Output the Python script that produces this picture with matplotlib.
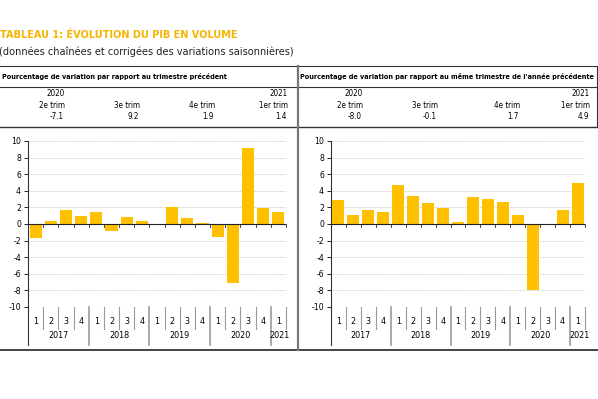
import numpy as np
import matplotlib
matplotlib.use("Agg")
import matplotlib.pyplot as plt
from matplotlib.lines import Line2D
from matplotlib.transforms import blended_transform_factory

plt.rcParams['font.family'] = ['DejaVu Sans']
plt.rcParams['font.stretch'] = 'condensed'
plt.rcParams['axes.unicode_minus'] = False

# données
trimestres = ['1', '2', '3', '4'] * 4 + ['1']
annees = ['2017', '2018', '2019', '2020', '2021']
var_trim = [-1.7, 0.4, 1.7, 1.0, 1.5, -0.8, 0.8, 0.4,
            -0.1, 2.0, 0.7, 0.1, -1.6, -7.1, 9.2, 1.9, 1.4]
var_annuelle = [2.9, 1.1, 1.7, 1.4, 4.7, 3.4, 2.5, 1.9,
                0.3, 3.2, 3.0, 2.7, 1.1, -8.0, -0.1, 1.7, 4.9]

entete_annees = ['2020', '', '', '2021']
entete_trim = ['2e trim', '3e trim', '4e trim', '1er trim']
val_trim = ['-7.1', '9.2', '1.9', '1.4']
val_annuelle = ['-8.0', '-0.1', '1.7', '4.9']

JAUNE = '#FFC000'
W, H = 598, 399

fig = plt.figure(figsize=(W / 100, H / 100), dpi=100)


def fx(px):
    return px / W


def fy(py):
    return 1 - py / H


def hline(x0, x1, y, lw=0.8, c='#333333'):
    fig.add_artist(Line2D([fx(x0), fx(x1)], [fy(y), fy(y)], lw=lw, color=c,
                          transform=fig.transFigure))


def vline(x, y0, y1, lw=0.8, c='#333333'):
    fig.add_artist(Line2D([fx(x), fx(x)], [fy(y0), fy(y1)], lw=lw, color=c,
                          transform=fig.transFigure))


# titre
fig.text(fx(0), fy(35), 'TABLEAU 1: ÉVOLUTION DU PIB EN VOLUME', color='#F5B400',
         fontsize=7.8, fontweight='bold', va='center', ha='left')
fig.text(fx(-1), fy(52), '(données chaînées et corrigées des variations saisonnières)',
         color='#222222', fontsize=7.8, va='center', ha='left')

# cadre du tableau
hline(0, 598, 66)
hline(0, 598, 87)
hline(0, 598, 127, lw=1.0)
hline(0, 598, 350, lw=1.4, c='#444444')
vline(298, 66, 350, lw=1.6, c='#777777')
vline(597, 66, 127, lw=0.8)

fig.text(fx(2), fy(76), 'Pourcentage de variation par rapport au trimestre précédent',
         fontsize=5.2, fontweight='bold', va='center', ha='left')
fig.text(fx(300), fy(76), 'Pourcentage de variation par rapport au même trimestre de l\'année précédente',
         fontsize=5.2, fontweight='bold', va='center', ha='left')

cols_g = [65, 140, 215, 288]
cols_d = [363, 438, 520, 590]
for cols, vals in ((cols_g, val_trim), (cols_d, val_annuelle)):
    for i, c in enumerate(cols):
        fig.text(fx(c), fy(93), entete_annees[i], fontsize=5.8, ha='right', va='center')
        fig.text(fx(c), fy(105), entete_trim[i], fontsize=5.8, ha='right', va='center')
        fig.text(fx(c - 1), fy(117), vals[i], fontsize=5.8, ha='right', va='center')


def graphique(x0, x1, valeurs):
    ax = fig.add_axes([fx(x0), fy(307), fx(x1 - x0), fy(141) - fy(307)])
    n = len(valeurs)
    x = np.arange(n)
    ax.bar(x, valeurs, width=0.8, color=JAUNE, zorder=3)
    ax.set_xlim(-0.5, n - 0.5)
    ax.set_ylim(-10, 10)
    ax.set_yticks(np.arange(-10, 11, 2))
    ax.tick_params(axis='y', labelsize=6.2, length=3, width=0.6, pad=2)
    ax.set_xticks([])
    for y in np.arange(-8, 11, 2):
        ax.axhline(y, color='#c4c4c4', lw=0.6, ls=(0, (1, 1)), zorder=1)
    ax.axhline(0, color='#222222', lw=0.8, zorder=4)
    for s in ('top', 'right', 'bottom'):
        ax.spines[s].set_visible(False)
    ax.spines['left'].set_linewidth(0.8)
    ax.spines['left'].set_color('#333333')

    # repères sur l'axe 0
    for b in np.arange(-0.5, n, 1):
        ax.plot([b, b], [0, -0.35], color='#222222', lw=0.6, zorder=4, clip_on=False)

    # axe des catégories à deux niveaux
    tr = blended_transform_factory(ax.transData, ax.transAxes)
    h_ax = 307 - 141
    y_cat = -(321 - 307) / h_ax
    y_an = -(336 - 307) / h_ax
    y_sep = -(329 - 307) / h_ax
    y_sep_an = -(345 - 307) / h_ax
    for i, t in enumerate(trimestres):
        ax.text(i, y_cat, t, transform=tr, ha='center', va='center', fontsize=6.4)
    for i in range(1, n + 1):
        b = i - 0.5
        if i % 4 == 0 and i < n:
            ax.plot([b, b], [0, y_sep_an], transform=tr, color='#999999', lw=1.2, clip_on=False)
        else:
            ax.plot([b, b], [0, y_sep], transform=tr, color='#999999', lw=0.8, clip_on=False)
    ax.plot([-0.5, -0.5], [0, y_sep_an], transform=tr, color='#333333', lw=0.8, clip_on=False)
    for k, a in enumerate(annees):
        cx = 4 * k + 1.5 if k < 4 else 16.1
        ax.text(cx, y_an, a, transform=tr, ha='center', va='center', fontsize=6.4)
    return ax


graphique(28, 286, var_trim)
graphique(331, 585, var_annuelle)

fig.savefig('out.png', dpi=100)
